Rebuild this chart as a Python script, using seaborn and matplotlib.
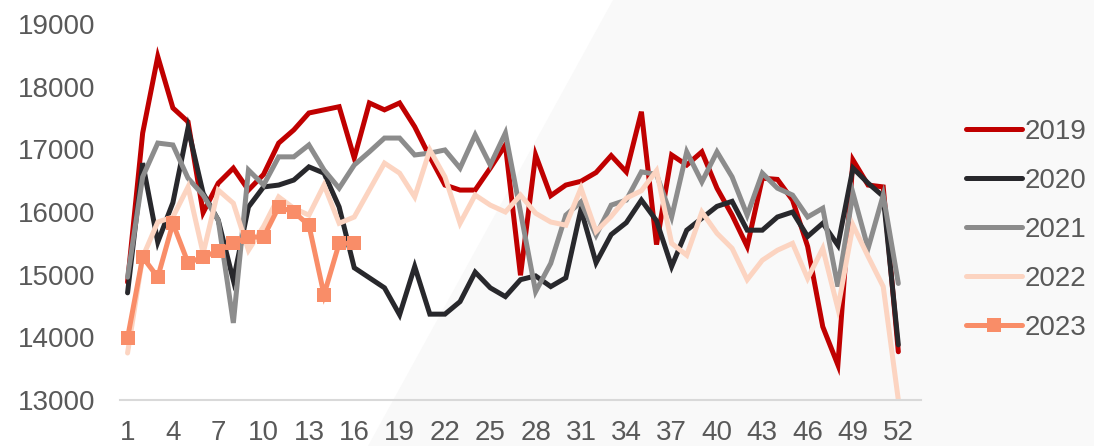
import numpy as np
import pandas as pd
import seaborn as sns
import matplotlib.pyplot as plt
from matplotlib.patches import Polygon
from matplotlib.lines import Line2D

# Configure
sns.set_theme(style="white")
plt.rcParams['font.family'] = ['Liberation Sans', 'DejaVu Sans']

# ---------------------------------
# Data
# ---------------------------------
weeks = list(range(1, 53))
xticks = list(range(1, 53, 3))
yticks = [13000, 14000, 15000, 16000, 17000, 18000, 19000]

y2019 = [14880, 17260, 18480, 17660, 17440, 15990, 16460, 16700, 16350, 16600,
         17100, 17310, 17580, 17630, 17680, 16860, 17740, 17630, 17740, 17360,
         16880, 16430, 16350, 16350, 16700, 17070, 14990, 16910, 16260, 16430,
         16490, 16630, 16900, 16640, 17600, 15480, 16910, 16750, 16960, 16380,
         15950, 15450, 16540, 16520, 16190, 15450, 14170, 13560, 16830, 16430,
         16400, 13770]
y2020 = [14710, 16780, 15520, 16150, 17340, 16300, 15870, 14910, 16080, 16400,
         16430, 16510, 16720, 16620, 16080, 15110, 14950, 14790, 14360, 15130,
         14370, 14370, 14570, 15040, 14790, 14650, 14920, 14980, 14810, 14950,
         16040, 15190, 15640, 15830, 16190, 15860, 15130, 15710, 15900, 16090,
         16170, 15710, 15710, 15920, 16000, 15610, 15820, 15470, 16700, 16460,
         16250, 13880]
y2021 = [14960, 16560, 17100, 17070, 16540, 16270, 15870, 14230, 16670, 16430,
         16880, 16880, 17070, 16670, 16380, 16750, 16960, 17180, 17180, 16910,
         16940, 16990, 16700, 17230, 16750, 17260, 16000, 14730, 15180, 15950,
         16160, 15630, 16110, 16190, 16640, 16600, 15920, 16960, 16480, 16960,
         16560, 15950, 16620, 16380, 16270, 15920, 16060, 14810, 16300, 15420,
         16270, 14860]
y2022 = [13750, 15280, 15840, 15920, 16400, 15340, 16350, 16140, 15390, 15770,
         16240, 16060, 15950, 16430, 15820, 15920, 16350, 16780, 16620, 16240,
         16990, 16560, 15820, 16270, 16110, 16000, 16270, 15980, 15840, 15790,
         16380, 15690, 15930, 16220, 16340, 16660, 15500, 15310, 16000, 15660,
         15420, 14920, 15230, 15390, 15500, 14940, 15420, 14460, 15790, 15290,
         14810, 13000]
y2023 = [13990, 15280, 14960, 15820, 15190, 15280, 15380, 15500, 15600, 15600,
         16080, 16000, 15790, 14680, 15500, 15500]

series = {'2019': y2019, '2020': y2020, '2021': y2021, '2022': y2022, '2023': y2023}
colors = {'2019': '#C00000', '2020': '#28282C', '2021': '#8C8C8C',
          '2022': '#FCD4C1', '2023': '#F98D68'}

# ---------------------------------
# Plot
# ---------------------------------
fig = plt.figure(figsize=(10.94, 4.46), dpi=100)
fig.patch.set_facecolor('white')

# Light diagonal background on the right (behind everything)
bg = Polygon([(613 / 1094, 1), (1, 1), (1, 0), (368 / 1094, 0)],
             closed=True, transform=fig.transFigure,
             facecolor='#f9f9f9', edgecolor='none', zorder=-10)
fig.add_artist(bg)

ax = fig.add_axes([120 / 1094, 1 - 400 / 446, 801 / 1094, 376 / 446])
ax.set_facecolor('none')
ax.set_zorder(1)

for name, vals in series.items():
    df = pd.DataFrame({'week': weeks[:len(vals)], 'value': vals})
    sns.lineplot(data=df, x='week', y='value', ax=ax, color=colors[name],
                 lw=3.6, marker='s' if name == '2023' else None,
                 markersize=10, markeredgewidth=0, solid_joinstyle='miter')

# Axes
ax.set_xlim(0.5, 53.5)
ax.set_ylim(13000, 19000)
ax.set_xticks(xticks)
ax.set_yticks(yticks)
ax.set_xlabel('')
ax.set_ylabel('')
ax.tick_params(axis='both', length=0, labelsize=20, labelcolor='#595959')
ax.tick_params(axis='y', pad=18)
ax.tick_params(axis='x', pad=14.5)
sns.despine(ax=ax, left=True)
ax.spines['bottom'].set_color('#d9d9d9')
ax.spines['bottom'].set_linewidth(1.5)
ax.grid(False)

# Legend
handles = [Line2D([0], [0], color=colors[n], lw=3.6,
                  marker='s' if n == '2023' else None,
                  markersize=10, markeredgewidth=0) for n in series]
ax.legend(handles, list(series), loc='center left',
          bbox_to_anchor=(966 / 1094, 1 - 230 / 446),
          bbox_transform=fig.transFigure, frameon=False, fontsize=20,
          labelcolor='#595959', handlelength=2.0, handletextpad=0.1,
          labelspacing=0.83, borderpad=0, borderaxespad=0)

fig.savefig('out.png', dpi=100, facecolor=fig.get_facecolor())
